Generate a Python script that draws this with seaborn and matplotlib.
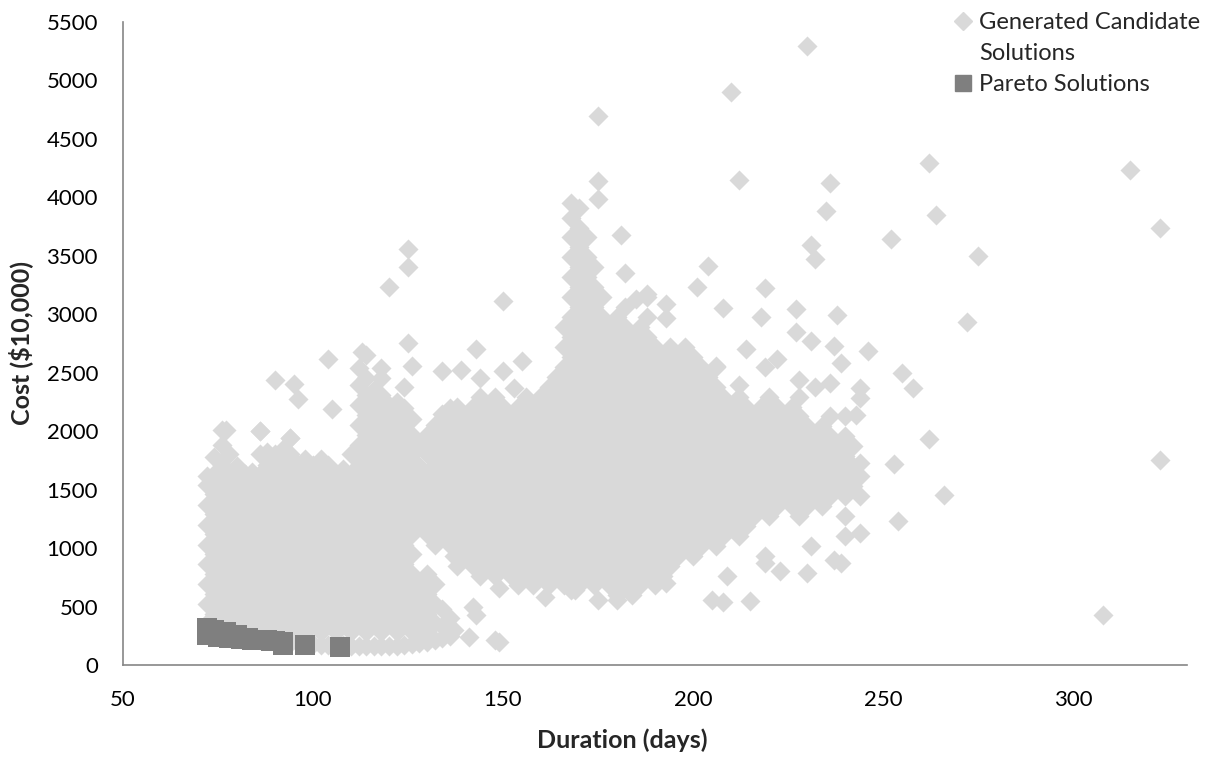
import matplotlib
matplotlib.use("Agg")
import matplotlib.pyplot as plt
import pandas as pd
import seaborn as sns
from matplotlib.lines import Line2D

# ---------------- data ----------------
x_ticks = [50, 100, 150, 200, 250, 300]
y_ticks = [0, 500, 1000, 1500, 2000, 2500, 3000, 3500, 4000, 4500, 5000, 5500]

# dense body of generated candidate solutions: one list of costs per duration
dense_durations = [72, 74, 76, 78, 80, 82, 84, 86, 88, 90, 92, 94, 96, 98, 100, 102, 104,
                   106, 108, 110, 112, 114, 116, 118, 120, 122, 124, 126, 128, 130, 132,
                   134, 136, 137, 138, 140, 142, 144, 146, 148, 150, 152, 154, 156, 158, 160,
                   162, 164, 166, 168, 170, 172, 174, 176, 178, 180, 182, 184, 186, 188,
                   190, 192, 194, 196, 198, 200, 202, 204, 206, 208, 210, 212, 214, 216,
                   218, 220, 222, 224, 226, 228, 230, 232, 234, 236, 238, 240, 242, 244]
dense_costs = [
    [360, 520, 690, 860, 1030, 1200, 1370, 1540, 1620],
    [300, 440, 610, 780, 950, 1120, 1290, 1460, 1630, 1780],
    [270, 360, 520, 690, 860, 1030, 1200, 1370, 1540, 1710, 1880, 2010],
    [250, 440, 610, 780, 950, 1120, 1290, 1460, 1630, 1800],
    [240, 360, 520, 690, 860, 1030, 1200, 1370, 1540, 1700],
    [230, 280, 440, 610, 780, 950, 1120, 1290, 1460, 1630],
    [220, 360, 520, 690, 860, 1030, 1200, 1370, 1540, 1650],
    [215, 280, 440, 610, 780, 950, 1120, 1290, 1460, 1630, 1800, 2000],
    [210, 360, 520, 690, 860, 1030, 1200, 1370, 1540, 1710, 1820],
    [205, 280, 440, 610, 780, 950, 1120, 1290, 1460, 1630, 1800],
    [200, 360, 520, 690, 860, 1030, 1200, 1370, 1540, 1710, 1850],
    [190, 280, 440, 610, 780, 950, 1120, 1290, 1460, 1630, 1800, 1940],
    [185, 360, 520, 690, 860, 1030, 1200, 1370, 1540, 1710],
    [180, 280, 440, 610, 780, 950, 1120, 1290, 1460, 1630, 1760],
    [180, 360, 520, 690, 860, 1030, 1200, 1370, 1540, 1710],
    [175, 280, 440, 610, 780, 950, 1120, 1290, 1460, 1630, 1760],
    [175, 360, 520, 690, 860, 1030, 1200, 1370, 1540, 1710],
    [170, 280, 440, 610, 780, 950, 1120, 1290, 1460, 1630],
    [170, 360, 520, 690, 860, 1030, 1200, 1370, 1540, 1680],
    [165, 280, 440, 610, 780, 950, 1120, 1290, 1460, 1630, 1800],
    [165, 360, 520, 690, 860, 1030, 1200, 1370, 1540, 1710, 1880, 2050, 2220, 2390, 2540],
    [160, 280, 440, 610, 780, 950, 1120, 1290, 1460, 1630, 1800, 1970, 2140, 2310, 2450, 2650],
    [160, 360, 520, 690, 860, 1030, 1200, 1370, 1540, 1710, 1880, 2050, 2220, 2350],
    [160, 280, 440, 610, 780, 950, 1120, 1290, 1460, 1630, 1800, 1970, 2140, 2310, 2450],
    [160, 360, 520, 690, 860, 1030, 1200, 1370, 1540, 1710, 1880, 2050, 2220],
    [165, 280, 440, 610, 780, 950, 1120, 1290, 1460, 1630, 1800, 1970, 2140, 2250],
    [170, 360, 520, 690, 860, 1030, 1200, 1370, 1540, 1710, 1880, 2050, 2200, 2380],
    [180, 280, 440, 610, 780, 950, 1120, 1290, 1460, 1630, 1800, 1970, 2100],
    [190, 360, 520, 690, 1200, 1370, 1540, 1700, 1880],
    [200, 280, 440, 610, 780, 1120, 1290, 1460, 1630, 1800, 1970],
    [210, 360, 520, 690, 1030, 1200, 1370, 1540, 1710, 1880, 2050],
    [230, 330, 480, 1120, 1290, 1460, 1630, 1800, 1970, 2150],
    [250, 400, 1030, 1200, 1370, 1540, 1710, 1880, 2050, 2200],
    [935, 1105, 1275, 1445, 1615, 1785, 1955, 2125],
    [850, 1020, 1190, 1360, 1530, 1700, 1870, 2040, 2210],
    [935, 1105, 1275, 1445, 1615, 1785, 1955, 2125],
    [850, 1020, 1190, 1360, 1530, 1700, 1870, 2040, 2210],
    [765, 935, 1105, 1275, 1445, 1615, 1785, 1955, 2125, 2295],
    [850, 1020, 1190, 1360, 1530, 1700, 1870, 2040, 2210],
    [765, 935, 1105, 1275, 1445, 1615, 1785, 1955, 2125, 2295],
    [850, 1020, 1190, 1360, 1530, 1700, 1870, 2040, 2210],
    [765, 935, 1105, 1275, 1445, 1615, 1785, 1955, 2125],
    [680, 850, 1020, 1190, 1360, 1530, 1700, 1870, 2040, 2210],
    [765, 935, 1105, 1275, 1445, 1615, 1785, 1955, 2125, 2295],
    [680, 850, 1020, 1190, 1360, 1530, 1700, 1870, 2040, 2210],
    [765, 935, 1105, 1275, 1445, 1615, 1785, 1955, 2125, 2295],
    [680, 850, 1020, 1190, 1360, 1530, 1700, 1870, 2040, 2210, 2380],
    [765, 935, 1105, 1275, 1445, 1615, 1785, 1955, 2125, 2295, 2465],
    [680, 850, 1020, 1190, 1360, 1530, 1700, 1870, 2040, 2210, 2380, 2550, 2720, 2890],
    [640, 765, 935, 1105, 1275, 1445, 1615, 1785, 1955, 2125, 2295, 2465, 2635, 2805,
     2975, 3145, 3315, 3485, 3655, 3825, 3950],
    [680, 850, 1020, 1190, 1360, 1530, 1700, 1870, 2040, 2210, 2380, 2550, 2720, 2890,
     3060, 3230, 3400, 3570, 3740, 3910],
    [765, 935, 1105, 1275, 1445, 1615, 1785, 1955, 2125, 2295, 2465, 2635, 2805, 2975,
     3145, 3315, 3485, 3655],
    [680, 850, 1020, 1190, 1360, 1530, 1700, 1870, 2040, 2210, 2380, 2550, 2720, 2890,
     3060, 3230, 3400],
    [765, 935, 1105, 1275, 1445, 1615, 1785, 1955, 2125, 2295, 2465, 2635, 2805, 2975, 3145],
    [680, 850, 1020, 1190, 1360, 1530, 1700, 1870, 2040, 2210, 2380, 2550, 2720, 2890],
    [595, 765, 935, 1105, 1275, 1445, 1615, 1785, 1955, 2125, 2295, 2465, 2635, 2805, 2975],
    [680, 850, 1020, 1190, 1360, 1530, 1700, 1870, 2040, 2210, 2380, 2550, 2720, 2890, 3060],
    [595, 765, 935, 1105, 1275, 1445, 1615, 1785, 1955, 2125, 2295, 2465, 2635, 2805],
    [680, 850, 1020, 1190, 1360, 1530, 1700, 1870, 2040, 2210, 2380, 2550, 2720, 2890],
    [765, 935, 1105, 1275, 1445, 1615, 1785, 1955, 2125, 2295, 2465, 2635, 2805, 2975, 3145],
    [680, 850, 1020, 1190, 1360, 1530, 1700, 1870, 2040, 2210, 2380, 2550, 2720],
    [765, 935, 1105, 1275, 1445, 1615, 1785, 1955, 2125, 2295, 2465, 2635],
    [850, 1020, 1190, 1360, 1530, 1700, 1870, 2040, 2210, 2380, 2550, 2720],
    [935, 1105, 1275, 1445, 1615, 1785, 1955, 2125, 2295, 2465, 2635],
    [1020, 1190, 1360, 1530, 1700, 1870, 2040, 2210, 2380, 2550, 2720],
    [935, 1105, 1275, 1445, 1615, 1785, 1955, 2125, 2295, 2465, 2635],
    [1020, 1190, 1360, 1530, 1700, 1870, 2040, 2210, 2380, 2550],
    [1105, 1275, 1445, 1615, 1785, 1955, 2125, 2295, 2465],
    [1020, 1190, 1360, 1530, 1700, 1870, 2040, 2210, 2380, 2550],
    [1105, 1275, 1445, 1615, 1785, 1955, 2125, 2295],
    [1190, 1360, 1530, 1700, 1870, 2040, 2210],
    [1105, 1275, 1445, 1615, 1785, 1955, 2125, 2295],
    [1190, 1360, 1530, 1700, 1870, 2040, 2210],
    [1275, 1445, 1615, 1785, 1955, 2125],
    [1360, 1530, 1700, 1870, 2040, 2210],
    [1275, 1445, 1615, 1785, 1955, 2125, 2295],
    [1360, 1530, 1700, 1870, 2040, 2210],
    [1445, 1615, 1785, 1955, 2125],
    [1360, 1530, 1700, 1870, 2040, 2210],
    [1275, 1445, 1615, 1785, 1955, 2125, 2295],
    [1360, 1530, 1700, 1870, 2040],
    [1445, 1615, 1785, 1955],
    [1360, 1530, 1700, 1870, 2040],
    [1445, 1615, 1785, 1955, 2125],
    [1530, 1700, 1870],
    [1105, 1275, 1445, 1615, 1785, 1955, 2125],
    [1530, 1700, 1870],
    [1445, 1615],
]

# scattered candidate solutions outside the dense body
sparse_durations = [230, 210, 175, 262, 315, 175, 212, 236, 175, 235, 264, 323, 252, 275, 231,
                    232, 181, 204, 182, 201, 219, 208, 218, 227, 238, 272, 193, 193, 188, 185,
                    214, 227, 231, 237, 246, 239, 219, 222, 206, 212, 228, 232, 236, 244, 244,
                    255, 258, 243, 262, 323, 253, 244, 266, 254, 244, 237, 239, 231, 219, 219,
                    223, 230, 308, 205, 208, 215, 175, 180, 169, 193, 209,
                    125, 125, 120, 150, 125, 104, 113, 118, 126, 90, 95, 96, 105, 77, 86, 94,
                    134, 139, 143, 144, 150, 155, 160, 153, 149,
                    142, 143, 149, 148, 149, 141, 161, 137, 135]
sparse_costs = [5290, 4900, 4690, 4290, 4235, 4140, 4150, 4125, 3980, 3880, 3850, 3740, 3640,
                3500, 3590, 3470, 3680, 3410, 3355, 3235, 3220, 3050, 2975, 3045, 2990, 2930,
                3085, 2970, 3170, 3125,
                2700, 2845, 2770, 2730, 2685, 2580, 2545, 2620, 2555, 2395, 2440, 2375, 2415,
                2370, 2285, 2495, 2365, 2135, 1935, 1750, 1715, 1730, 1450, 1235, 1130, 900,
                870, 1015, 930, 870, 800, 790, 430, 555, 540, 545, 557, 557, 640, 700, 760,
                3555, 3400, 3235, 3110, 2755, 2615, 2675, 2540, 2555, 2440, 2400, 2275, 2185,
                2010, 2000, 1940,
                2515, 2525, 2700, 2455, 2515, 2600, 2300, 2370, 2230,
                500, 430, 655, 215, 195, 240, 585, 300, 350]

# Pareto solutions
pareto_durations = [72, 72, 74, 75, 77, 78, 80, 81, 83, 84, 86, 88, 89, 90, 92, 92, 98, 107]
pareto_costs = [320, 260, 300, 240, 285, 230, 257, 220, 228, 210, 214, 214, 208, 205, 200,
                175, 171, 157]

# ---------------- build tables ----------------
cand_d, cand_c = [], []
for d, cs in zip(dense_durations, dense_costs):
    cand_d += [d] * len(cs)
    cand_c += cs
cand_d += sparse_durations
cand_c += sparse_costs
cand = pd.DataFrame({"Duration": cand_d, "Cost": cand_c})
pareto = pd.DataFrame({"Duration": pareto_durations, "Cost": pareto_costs})

# ---------------- style ----------------
sns.set_theme(style="white")
plt.rcParams["font.family"] = ["Lato", "DejaVu Sans"]

cand_color = "#D9D9D9"
pareto_color = "#7F7F7F"
axis_color = "#868686"
tick_fs = 16
label_fs = 18
legend_fs = 17

fig = plt.figure(figsize=(12.2, 7.57), dpi=100)
ax_left, ax_right, ax_top, ax_bottom = 123, 1187, 21.7, 665
ax = fig.add_axes([ax_left / 1220, 1 - ax_bottom / 757,
                   (ax_right - ax_left) / 1220, (ax_bottom - ax_top) / 757])

sns.scatterplot(data=cand, x="Duration", y="Cost", marker="D", s=104, color=cand_color,
                linewidth=0, ax=ax, legend=False, zorder=2)
sns.scatterplot(data=pareto, x="Duration", y="Cost", marker="s", s=207, color=pareto_color,
                linewidth=0, ax=ax, legend=False, zorder=3)

ax.set_xlim(50, 330)
ax.set_ylim(0, 5500)
ax.set_xticks(x_ticks)
ax.set_yticks(y_ticks)
ax.set_xticklabels([str(v) for v in x_ticks])
ax.set_yticklabels([str(v) for v in y_ticks])

for side in ["top", "right"]:
    ax.spines[side].set_visible(False)
for side in ["left", "bottom"]:
    ax.spines[side].set_color(axis_color)
    ax.spines[side].set_linewidth(1.2)

ax.tick_params(axis="both", direction="out", length=6, width=1.2, color=axis_color,
               labelsize=tick_fs, labelcolor="black", pad=12)
ax.grid(False)

ax_w = ax_right - ax_left
ax_h = ax_bottom - ax_top
ax.set_xlabel("Duration (days)", fontsize=label_fs, fontweight="bold")
ax.xaxis.label.set_va("center")
ax.xaxis.set_label_coords((622 - ax_left) / ax_w, (ax_bottom - 740) / ax_h)
ax.set_ylabel(r"Cost (\$10,000)", fontsize=label_fs, fontweight="bold")
ax.yaxis.label.set_va("center")
ax.yaxis.set_label_coords((21 - ax_left) / ax_w, (ax_bottom - 343) / ax_h)

handles = [
    Line2D([], [], marker="D", color=cand_color, markersize=9, linestyle="None"),
    Line2D([], [], marker=None, linestyle="None"),
    Line2D([], [], marker="s", color=pareto_color, markersize=12, linestyle="None"),
]
labels = ["Generated Candidate", "Solutions", "Pareto Solutions"]
ax.legend(handles, labels, loc="upper left", bbox_to_anchor=(951 / 1220, 1 - 12 / 757),
          bbox_transform=fig.transFigure, frameon=False, fontsize=legend_fs,
          handlelength=1.0, handletextpad=0.2, labelspacing=0.42, borderpad=0,
          borderaxespad=0)

fig.savefig("out.png", dpi=100)
